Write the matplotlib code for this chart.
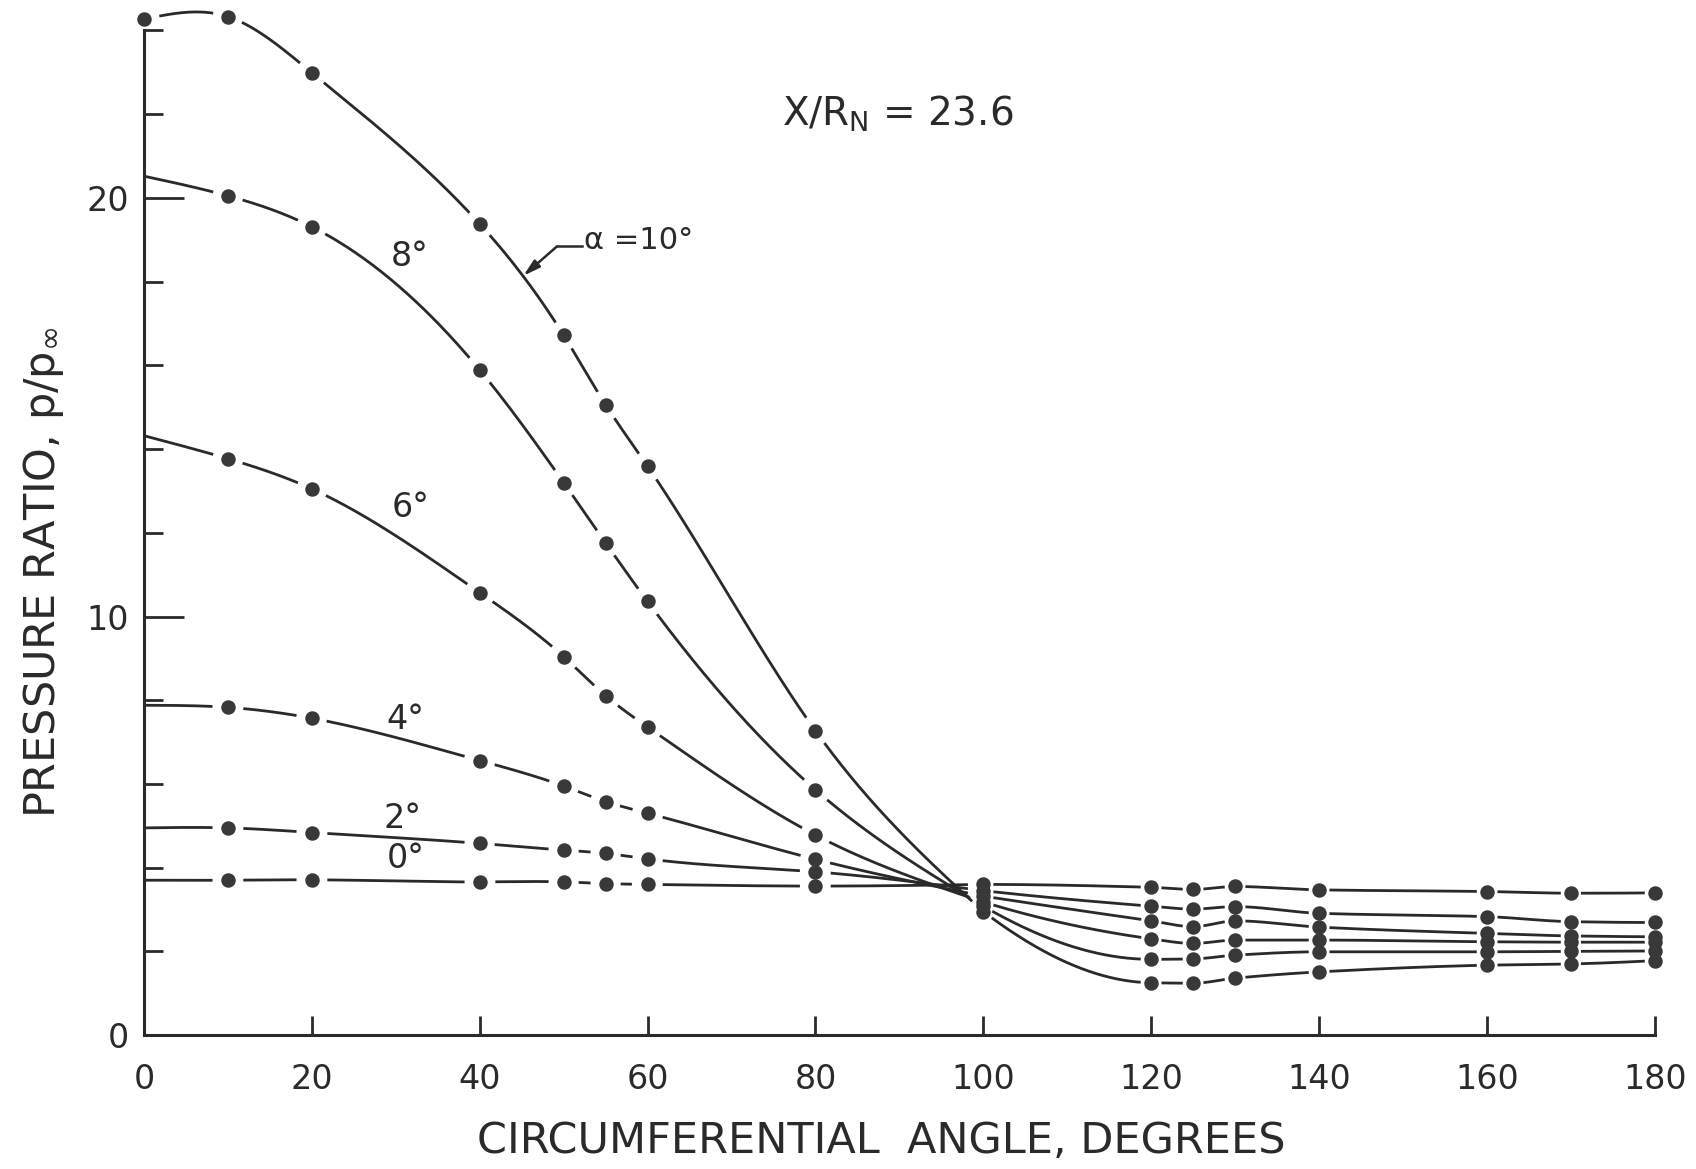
import numpy as np
import matplotlib
matplotlib.use("Agg")
import matplotlib.pyplot as plt
from matplotlib.ticker import FixedLocator

# Circumferential stations (degrees) where pressure taps were read
angles = [0, 10, 20, 40, 50, 55, 60, 80, 100, 120, 125, 130, 140, 160, 170, 180]

# Angle of attack of each curve (degrees)
alphas = [0, 2, 4, 6, 8, 10]

# Pressure ratio p/p_inf along each curve; the 0-degree entry of the
# 0..8 degree curves is the faired start of the line at the axis
p_alpha0 = [3.70, 3.70, 3.71, 3.66, 3.66, 3.62, 3.60, 3.56, 3.60, 3.53, 3.48, 3.55, 3.47, 3.43, 3.39, 3.40]
p_alpha2 = [4.95, 4.95, 4.84, 4.58, 4.42, 4.34, 4.21, 3.90, 3.45, 3.08, 3.01, 3.07, 2.91, 2.83, 2.71, 2.69]
p_alpha4 = [7.88, 7.83, 7.57, 6.56, 5.95, 5.58, 5.30, 4.20, 3.32, 2.73, 2.59, 2.73, 2.58, 2.43, 2.37, 2.35]
p_alpha6 = [14.32, 13.77, 13.05, 10.57, 9.04, 8.11, 7.36, 4.78, 3.18, 2.30, 2.19, 2.27, 2.27, 2.23, 2.22, 2.22]
p_alpha8 = [20.52, 20.05, 19.31, 15.89, 13.20, 11.76, 10.36, 5.86, 3.08, 1.81, 1.82, 1.91, 1.99, 1.99, 2.00, 2.01]
p_alpha10 = [24.27, 24.33, 22.99, 19.38, 16.72, 15.06, 13.59, 7.27, 2.95, 1.25, 1.24, 1.36, 1.51, 1.67, 1.70, 1.78]

# Whether a measured point exists at 0 degrees
dot_at_zero = [False, False, False, False, False, True]

x_ticks = [0, 20, 40, 60, 80, 100, 120, 140, 160, 180]
y_ticks = [0, 10, 20]
y_minor_ticks = [2, 4, 6, 8, 12, 14, 16, 18, 22, 24]

curves = [p_alpha0, p_alpha2, p_alpha4, p_alpha6, p_alpha8, p_alpha10]

INK = "#2a2a2a"


def natural_spline(xk, yk, xs):
    """Natural cubic spline through the points (windward fairing)."""
    xk = np.asarray(xk, float)
    yk = np.asarray(yk, float)
    n = len(xk)
    h = np.diff(xk)
    A = np.zeros((n, n))
    b = np.zeros(n)
    A[0, 0] = A[-1, -1] = 1.0
    for i in range(1, n - 1):
        A[i, i - 1] = h[i - 1]
        A[i, i] = 2 * (h[i - 1] + h[i])
        A[i, i + 1] = h[i]
        b[i] = 6 * ((yk[i + 1] - yk[i]) / h[i] - (yk[i] - yk[i - 1]) / h[i - 1])
    M = np.linalg.solve(A, b)
    i = np.clip(np.searchsorted(xk, xs) - 1, 0, n - 2)
    hi = h[i]
    a = xk[i + 1] - xs
    c = xs - xk[i]
    return (M[i] * a**3 / (6 * hi) + M[i + 1] * c**3 / (6 * hi)
            + (yk[i] / hi - M[i] * hi / 6) * a
            + (yk[i + 1] / hi - M[i + 1] * hi / 6) * c)


def pchip(xk, yk, xs):
    """Shape-preserving piecewise cubic Hermite curve (leeward fairing)."""
    xk = np.asarray(xk, float)
    yk = np.asarray(yk, float)
    h = np.diff(xk)
    d = np.diff(yk) / h
    n = len(xk)
    m = np.zeros(n)
    for k in range(1, n - 1):
        if d[k - 1] * d[k] > 0:
            w1 = 2 * h[k] + h[k - 1]
            w2 = h[k] + 2 * h[k - 1]
            m[k] = (w1 + w2) / (w1 / d[k - 1] + w2 / d[k])

    def end_slope(h0, h1, d0, d1):
        s = ((2 * h0 + h1) * d0 - h0 * d1) / (h0 + h1)
        if np.sign(s) != np.sign(d0):
            return 0.0
        if np.sign(d0) != np.sign(d1) and abs(s) > abs(3 * d0):
            return 3 * d0
        return s

    m[0] = end_slope(h[0], h[1], d[0], d[1])
    m[-1] = end_slope(h[-1], h[-2], d[-1], d[-2])
    idx = np.clip(np.searchsorted(xk, xs) - 1, 0, n - 2)
    t = (xs - xk[idx]) / h[idx]
    h00 = 2 * t**3 - 3 * t**2 + 1
    h10 = t**3 - 2 * t**2 + t
    h01 = -2 * t**3 + 3 * t**2
    h11 = t**3 - t**2
    return (h00 * yk[idx] + h10 * h[idx] * m[idx]
            + h01 * yk[idx + 1] + h11 * h[idx] * m[idx + 1])


fig = plt.figure(figsize=(16.96, 11.69), dpi=100)
ax = fig.add_axes([0.08485, 0.11454, 0.8909, 0.8594])
ax.set_xlim(0, 180)
ax.set_ylim(0, 24)

for side in ("top", "right"):
    ax.spines[side].set_visible(False)
for side in ("left", "bottom"):
    ax.spines[side].set_linewidth(2.2)
    ax.spines[side].set_color(INK)
ax.spines["left"].set_bounds(0, 24)
ax.spines["bottom"].set_bounds(0, 180)

ax.set_xticks(x_ticks)
ax.set_xticklabels([str(v) for v in x_ticks])
ax.set_yticks(y_ticks)
ax.set_yticklabels([str(v) for v in y_ticks])
ax.yaxis.set_minor_locator(FixedLocator(y_minor_ticks))
ax.tick_params(axis="x", direction="in", length=14, width=2, pad=20,
               labelsize=24, color=INK, labelcolor=INK)
ax.tick_params(axis="y", which="major", direction="in", length=29, width=2,
               pad=11, labelsize=24, color=INK, labelcolor=INK)
ax.tick_params(axis="y", which="minor", direction="in", length=14, width=2,
               color=INK)

# Faired curves, broken where they pass through the data symbols
split = angles.index(100)
segments = ((0, split + 1, natural_spline, 15.0),
            (split, len(angles), pchip, 10.0))
for vals, zero_dot in zip(curves, dot_at_zero):
    xs_all = np.asarray(angles, float)
    ys_all = np.asarray(vals, float)
    start = 0 if zero_dot else 1
    dot_x = xs_all[start:]
    dot_y = ys_all[start:]
    dot_disp = ax.transData.transform(np.c_[dot_x, dot_y])
    for lo, hi, fair, gap_px in segments:
        xk = xs_all[lo:hi]
        yk = ys_all[lo:hi]
        xs = np.linspace(xk[0], xk[-1], 1200)
        ys = fair(xk, yk, xs)
        disp = ax.transData.transform(np.c_[xs, ys])
        dist = np.min(np.hypot(disp[:, None, 0] - dot_disp[None, :, 0],
                               disp[:, None, 1] - dot_disp[None, :, 1]), axis=1)
        ys = np.where(dist < gap_px, np.nan, ys)
        ax.plot(xs, ys, color=INK, lw=2.0, solid_capstyle="butt",
                clip_on=False, zorder=2)
    ax.plot(dot_x, dot_y, "o", ms=9.4, color="#383838", mec="#383838",
            clip_on=False, zorder=3)

# Curve labels
label_pos = {8: (31.6, 18.6), 6: (31.8, 12.6), 4: (31.2, 7.55),
             2: (30.8, 5.17), 0: (31.2, 4.23)}
for a in alphas:
    if a in label_pos:
        ax.text(*label_pos[a], f"{a}°", fontsize=24, color=INK,
                ha="center", va="center")

# Leader for the alpha = 10 deg curve
ax.plot([49.2, 52.2], [18.84, 18.84], color=INK, lw=1.8)
ax.annotate("", xy=(45.2, 18.14), xytext=(49.2, 18.84),
            arrowprops=dict(arrowstyle="-|>,head_length=1.0,head_width=0.28",
                            color=INK, lw=1.8, shrinkA=0, shrinkB=0))
ax.text(52.4, 18.99, "α =10°", fontsize=22, color=INK, ha="left", va="center")

ax.text(89.8, 22.0, r"X/R$_\mathregular{N}$ = 23.6", fontsize=28, color=INK,
        ha="center", va="center")

fig.text(0.5198, 0.0240, "CIRCUMFERENTIAL  ANGLE, DEGREES", fontsize=31,
         color=INK, ha="center", va="center")
fig.text(0.0254, 0.5107, r"PRESSURE RATIO, p/p$_\infty$", fontsize=31,
         color=INK, ha="center", va="center", rotation=90)

fig.savefig("out.png", dpi=100, facecolor="white")
